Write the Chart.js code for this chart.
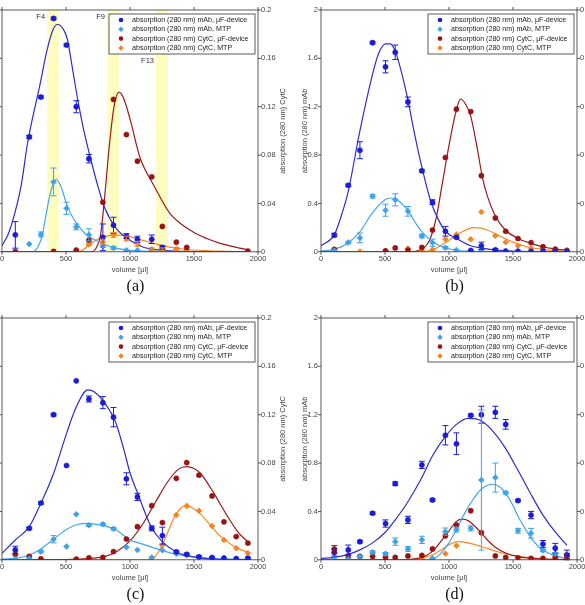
<!DOCTYPE html>
<html lang="en">
  <head>
    <meta charset="UTF-8" />
    <title>Elution profiles</title>
    <style>
      body {
        margin: 0;
        width: 585px;
        height: 605px;
        overflow: hidden;
        background: #fff;
        position: relative;
      }
      canvas {
        position: absolute;
      }
    </style>
    <script src="https://cdn.jsdelivr.net/npm/chart.js@4.4.0/dist/chart.umd.min.js"></script>
  </head>
  <body>
    <canvas id="chartA" width="309" height="298" style="left: -19px; top: 0px"></canvas>
    <canvas id="chartB" width="309" height="298" style="left: 300px; top: 0px"></canvas>
    <canvas id="chartC" width="309" height="298" style="left: -19px; top: 308px"></canvas>
    <canvas id="chartD" width="309" height="298" style="left: 300px; top: 308px"></canvas>
    <script>
      // fraction volumes (µl), shared by all four runs
      const volumes = [104, 213, 304, 403, 504, 580, 679, 788, 871, 972, 1058, 1170, 1253, 1362, 1443, 1539, 1641, 1734, 1830, 1921];

      const seriesNames = [
        "absorption (280 nm) mAb, \u03bcF-device",
        "absorption (280 nm) mAb, MTP",
        "absorption (280 nm) CytC, \u03bcF-device",
        "absorption (280 nm) CytC, MTP",
      ];
      const pointColors = ["#1d1dd8", "#3da2ea", "#981414", "#f5831f"];
      const lineColors = ["#2e2ec9", "#45a6ea", "#9a1a1a", "#f58a2a"];
      const markerShapes = ["circle", "rectRot", "circle", "rectRot"];
      const seriesAxes = ["y", "y", "y1", "y1"];

      // (a)
      const aMabDev = [0.14, 0.95, 1.28, 1.93, 1.71, 1.2, 0.77, 0.12, 0.22, 0.13, 0.104, 0.104, 0.036, null, null, null, null, null, null, null];
      const aMabDevErr = [0.11, 0.012, 0.01, 0.01, 0.01, 0.05, 0.035, 0.11, 0.066, 0.02, 0.025, 0.035, 0.015, 0, 0, 0, 0, 0, 0, 0];
      const aMabMtp = [null, 0.064, 0.144, 0.578, 0.36, 0.206, 0.14, 0.046, 0.032, 0.012, 0.012, 0.01, 0.008, null, null, null, null, null, null, null];
      const aMabMtpErr = [0, 0, 0.02, 0.115, 0.05, 0.024, 0.05, 0.01, 0.01, 0, 0, 0, 0, 0, 0, 0, 0, 0, 0, 0];
      const aCytDev = [0.0002, null, null, 0.0003, null, 0.0014, 0.0096, 0.041, 0.126, 0.097, 0.075, 0.062, 0.021, 0.008, 0.0036, null, null, null, null, 0.0006];
      const aCytMtp = [null, null, null, null, null, 0.0006, 0.006, 0.0084, 0.014, 0.011, 0.0066, 0.0022, 0.0022, 0.0024, 0.0016, null, null, null, null, null];
      const aCytMtpErr = [0, 0, 0, 0, 0, 0, 0.001, 0.002, 0.002, 0.002, 0.002, 0.001, 0.001, 0.001, 0, 0, 0, 0, 0, 0];

      const aFitMabDev = [[0, 0.05], [50, 0.15], [100, 0.32], [150, 0.55], [200, 0.9], [300, 1.4], [350, 1.66], [400, 1.84], [435, 1.88], [480, 1.84], [510, 1.76], [550, 1.52], [593, 1.25], [640, 1.0], [690, 0.78], [750, 0.54], [800, 0.37], [887, 0.2], [1000, 0.095], [1100, 0.04], [1200, 0.018], [1310, 0.008], [1500, 0.002], [1920, 0]];
      const aFitMabMtp = [[250, 0], [280, 0.04], [313, 0.13], [340, 0.28], [370, 0.45], [400, 0.56], [425, 0.6], [460, 0.54], [510, 0.38], [550, 0.29], [593, 0.22], [640, 0.16], [690, 0.12], [750, 0.085], [800, 0.06], [887, 0.03], [1000, 0.012], [1100, 0.005], [1300, 0.001], [1920, 0]];
      const aFitCytDev = [[0, 0], [700, 0], [740, 0.004], [770, 0.014], [800, 0.043], [835, 0.084], [875, 0.12], [914, 0.132], [950, 0.127], [1000, 0.11], [1078, 0.078], [1191, 0.054], [1310, 0.032], [1468, 0.018], [1600, 0.011], [1705, 0.007], [1800, 0.0045], [1920, 0.0016]];
      const aFitCytMtp = [[0, 0], [600, 0], [650, 0.003], [690, 0.0066], [750, 0.0105], [800, 0.0125], [880, 0.014], [950, 0.0135], [1000, 0.0125], [1100, 0.0095], [1200, 0.0065], [1300, 0.004], [1400, 0.0025], [1500, 0.0015], [1700, 0.0005], [1920, 0]];

      // fractions marked in (a)
      const fracBands = [[352, 445], [820, 914], [1203, 1297]];
      const fracNames = ["F4", "F9", "F13"];
      const fracLabelLevels = [0.194, 0.194, 0.158];

      // (b)
      const bMabDev = [0.138, 0.55, 0.84, 1.73, 1.53, 1.65, 1.24, 0.67, 0.41, 0.17, 0.12, 0.01, 0.05, 0.016, 0.005, 0.004, 0.003, 0.003, 0.003, 0.002];
      const bMabDevErr = [0.015, 0.01, 0.07, 0.01, 0.05, 0.06, 0.04, 0.01, 0.02, 0.04, 0.01, 0, 0.03, 0.01, 0, 0, 0, 0, 0, 0];
      const bMabMtp = [0.01, 0.077, 0.115, 0.46, 0.344, 0.43, 0.335, 0.13, 0.075, 0.033, 0.014, 0.01, 0.008, 0.006, 0.005, 0.004, 0.003, 0.003, 0.003, 0.002];
      const bMabMtpErr = [0, 0.01, 0.04, 0.015, 0.05, 0.05, 0.04, 0.015, 0.03, 0.01, 0, 0, 0, 0, 0, 0, 0, 0, 0, 0];
      const bCytDev = [0.002, null, null, null, 0.0008, 0.0032, 0.0014, 0.0036, 0.018, 0.078, 0.118, 0.116, 0.063, 0.028, 0.017, 0.011, 0.0076, 0.0042, 0.0022, 0.0011];
      const bCytMtp = [null, null, 0.0002, null, 0.0006, null, 0.0028, 0.0008, 0.0016, 0.0104, 0.0144, 0.0104, 0.033, 0.0132, 0.008, 0.005, 0.0028, 0.0016, 0.0012, 0.0008];

      const bFitMabDev = [[0, 0.05], [104, 0.14], [150, 0.27], [213, 0.5], [300, 0.98], [403, 1.47], [450, 1.64], [504, 1.72], [540, 1.72], [580, 1.66], [630, 1.48], [680, 1.25], [730, 0.98], [788, 0.7], [860, 0.41], [920, 0.26], [972, 0.17], [1058, 0.11], [1170, 0.05], [1253, 0.03], [1362, 0.014], [1500, 0.005], [1700, 0.001], [1920, 0]];
      const bFitMabMtp = [[0, 0.008], [100, 0.02], [200, 0.065], [300, 0.16], [400, 0.32], [500, 0.43], [540, 0.445], [600, 0.425], [680, 0.34], [750, 0.22], [800, 0.15], [870, 0.085], [950, 0.04], [1050, 0.015], [1150, 0.005], [1300, 0.001], [1920, 0]];
      const bFitCytDev = [[0, 0], [700, 0], [760, 0.001], [800, 0.003], [850, 0.01], [900, 0.028], [950, 0.058], [1000, 0.088], [1050, 0.114], [1090, 0.1264], [1130, 0.122], [1170, 0.112], [1220, 0.086], [1260, 0.062], [1300, 0.046], [1360, 0.03], [1440, 0.018], [1540, 0.011], [1640, 0.007], [1740, 0.004], [1830, 0.0024], [1920, 0.0014]];
      const bFitCytMtp = [[0, 0], [780, 0], [850, 0.001], [900, 0.003], [950, 0.006], [1000, 0.0096], [1050, 0.013], [1100, 0.0164], [1150, 0.019], [1200, 0.02], [1250, 0.0196], [1300, 0.018], [1350, 0.0156], [1400, 0.0128], [1500, 0.008], [1600, 0.0044], [1700, 0.0024], [1800, 0.0012], [1920, 0.0006]];

      // (c)
      const cMabDev = [0.082, 0.26, 0.47, 1.2, 0.78, 1.48, 1.33, 1.3, 1.18, 0.67, 0.52, 0.26, 0.2, 0.066, 0.045, 0.025, 0.018, 0.015, 0.01, 0.013];
      const cMabDevErr = [0.03, 0.01, 0.01, 0.01, 0, 0, 0.025, 0.05, 0.08, 0.05, 0.03, 0.02, 0.07, 0.01, 0.01, 0.01, 0.005, 0, 0, 0.01];
      const cMabMtp = [0.006, 0.01, 0.068, 0.17, 0.11, 0.376, 0.286, 0.294, 0.256, 0.104, 0.082, 0.02, 0.08, 0.05, 0.04, 0.024, 0.016, 0.012, 0.008, 0.006];
      const cMabMtpErr = [0, 0, 0.01, 0.03, 0, 0, 0.01, 0.01, 0.01, 0, 0, 0, 0, 0, 0, 0, 0, 0, 0, 0];
      const cCytDev = [0.0046, 0.0028, 0.0008, null, null, 0.0006, 0.0016, 0.002, 0.0068, 0.0172, 0.0274, 0.0448, 0.0308, 0.0674, 0.0804, 0.07, 0.0528, 0.0314, 0.0192, 0.0138];
      const cCytMtp = [null, null, null, null, null, null, null, null, null, null, null, 0.0014, 0.012, 0.037, 0.0446, 0.0406, 0.028, 0.0164, 0.0096, 0.0054];

      const cFitMabDev = [[0, 0.054], [104, 0.164], [213, 0.274], [304, 0.468], [403, 0.714], [504, 1.044], [580, 1.264], [670, 1.406], [720, 1.39], [800, 1.3], [887, 1.14], [950, 0.92], [1000, 0.72], [1060, 0.55], [1165, 0.274], [1250, 0.152], [1355, 0.068], [1440, 0.036], [1600, 0.01], [1800, 0.002], [1920, 0.001]];
      const cFitMabMtp = [[0, 0.006], [104, 0.012], [213, 0.04], [304, 0.09], [403, 0.17], [504, 0.25], [580, 0.29], [670, 0.302], [800, 0.28], [887, 0.25], [1000, 0.165], [1100, 0.13], [1200, 0.094], [1300, 0.062], [1400, 0.038], [1500, 0.024], [1650, 0.01], [1920, 0.003]];
      const cFitCytDev = [[0, 0], [500, 0.0002], [700, 0.0012], [800, 0.0026], [900, 0.007], [1000, 0.0156], [1100, 0.0296], [1200, 0.048], [1300, 0.0654], [1380, 0.075], [1440, 0.077], [1500, 0.0755], [1550, 0.0716], [1650, 0.056], [1750, 0.038], [1850, 0.022], [1920, 0.015]];
      const cFitCytMtp = [[0, 0], [1150, 0], [1180, 0.001], [1220, 0.006], [1260, 0.014], [1300, 0.024], [1350, 0.036], [1400, 0.043], [1440, 0.045], [1500, 0.042], [1550, 0.038], [1600, 0.032], [1650, 0.026], [1700, 0.02], [1750, 0.016], [1800, 0.012], [1850, 0.009], [1915, 0.0066]];

      // (d)
      const dMabDev = [0.06, 0.082, 0.15, 0.385, 0.3, 0.63, 0.33, 0.785, 0.495, 1.03, 0.96, 1.195, 1.2, 1.22, 1.12, 0.49, 0.37, 0.13, 0.096, 0.04];
      const dMabDevErr = [0.03, 0.04, 0.01, 0.01, 0.03, 0.015, 0.03, 0.03, 0.01, 0.08, 0.09, 0.01, 0.07, 0.05, 0.04, 0.01, 0.03, 0.03, 0.04, 0.04];
      const dMabMtp = [0.005, 0.005, 0.027, 0.063, 0.05, 0.15, 0.09, 0.165, 0.01, 0.233, 0.25, 0.26, 0.66, 0.68, 0.554, 0.24, 0.22, 0.077, 0.05, 0.01];
      const dMabMtpErr = [0, 0, 0, 0.01, 0.01, 0.03, 0.02, 0.03, 0, 0.03, 0.02, 0.02, 0.58, 0.12, 0.01, 0.02, 0.04, 0.01, 0.01, 0];
      const dCytDev = [0.0088, 0.0032, 0.0028, 0.0028, 0.002, 0.002, 0.0032, 0.0036, 0.009, 0.0198, 0.0288, 0.0406, 0.0224, 0.0032, 0.002, 0.0016, 0.0012, 0.0012, 0.002, 0.0032];
      const dCytDevErr = [0.003, 0, 0, 0, 0, 0, 0, 0, 0, 0, 0, 0, 0, 0, 0, 0, 0, 0, 0, 0.002];
      const dCytMtp = [null, 0.0014, null, null, null, null, null, 0.0006, 0.001, 0.005, 0.0116, null, null, null, null, null, null, null, null, null];

      const dFitMabDev = [[0, 0.012], [100, 0.02], [213, 0.045], [300, 0.08], [403, 0.14], [504, 0.23], [580, 0.33], [679, 0.48], [788, 0.68], [871, 0.86], [972, 1.02], [1058, 1.12], [1150, 1.17], [1253, 1.15], [1362, 1.04], [1443, 0.92], [1539, 0.74], [1641, 0.54], [1734, 0.37], [1830, 0.23], [1921, 0.12]];
      const dFitMabMtp = [[0, 0], [850, 0], [900, 0.02], [950, 0.07], [1000, 0.14], [1058, 0.25], [1120, 0.38], [1170, 0.47], [1253, 0.585], [1340, 0.625], [1400, 0.6], [1443, 0.55], [1500, 0.45], [1539, 0.36], [1600, 0.25], [1641, 0.18], [1700, 0.11], [1734, 0.082], [1800, 0.045], [1830, 0.033], [1921, 0.01]];
      const dFitCytDev = [[0, 0], [600, 0], [700, 0.0004], [800, 0.0024], [870, 0.007], [950, 0.017], [1000, 0.024], [1050, 0.031], [1100, 0.0336], [1150, 0.0324], [1200, 0.028], [1253, 0.022], [1300, 0.0164], [1362, 0.0104], [1443, 0.0056], [1539, 0.0026], [1641, 0.0012], [1800, 0.0004], [1921, 0.0002]];
      const dFitCytMtp = [[0, 0], [600, 0], [700, 0.0002], [800, 0.0016], [870, 0.004], [950, 0.009], [1000, 0.0124], [1070, 0.015], [1150, 0.014], [1250, 0.011], [1350, 0.0076], [1450, 0.0048], [1550, 0.0028], [1650, 0.0016], [1750, 0.0008], [1921, 0.0002]];

      const FONT = '"Liberation Sans", Arial, sans-serif';
      const SERIF = '"Liberation Serif", "DejaVu Serif", serif';

      function drawMarker(ctx, shape, color, x, y, r) {
        ctx.fillStyle = color;
        ctx.beginPath();
        if (shape === "circle") {
          ctx.arc(x, y, r, 0, Math.PI * 2);
        } else {
          ctx.moveTo(x, y - r * 1.2);
          ctx.lineTo(x + r * 1.2, y);
          ctx.lineTo(x, y + r * 1.2);
          ctx.lineTo(x - r * 1.2, y);
          ctx.closePath();
        }
        ctx.fill();
      }

      const framePlugin = {
        id: "frame",
        afterDraw(chart) {
          const { ctx, chartArea: a, scales } = chart;
          ctx.save();
          ctx.strokeStyle = "#333";
          ctx.lineWidth = 0.8;
          ctx.strokeRect(a.left, a.top, a.right - a.left, a.bottom - a.top);
          ctx.beginPath();
          scales.x.ticks.forEach((t) => {
            const px = scales.x.getPixelForValue(t.value);
            ctx.moveTo(px, a.bottom);
            ctx.lineTo(px, a.bottom + 3);
            ctx.moveTo(px, a.top);
            ctx.lineTo(px, a.top - 3);
          });
          scales.y.ticks.forEach((t) => {
            const py = scales.y.getPixelForValue(t.value);
            ctx.moveTo(a.left, py);
            ctx.lineTo(a.left - 3, py);
          });
          scales.y1.ticks.forEach((t) => {
            const py = scales.y1.getPixelForValue(t.value);
            ctx.moveTo(a.right, py);
            ctx.lineTo(a.right + 3, py);
          });
          ctx.stroke();
          ctx.restore();
        },
      };

      const errorBarPlugin = {
        id: "errorBars",
        afterDatasetsDraw(chart) {
          const { ctx, scales } = chart;
          ctx.save();
          ctx.lineWidth = 1;
          chart.data.datasets.forEach((ds) => {
            if (!ds.errorBars) return;
            const ys = scales[ds.yAxisID];
            ctx.strokeStyle = ds.borderColor;
            ctx.beginPath();
            ds.data.forEach((p) => {
              if (!p.e) return;
              const px = scales.x.getPixelForValue(p.x);
              const top = ys.getPixelForValue(p.y + p.e);
              const bot = ys.getPixelForValue(Math.max(p.y - p.e, 0));
              ctx.moveTo(px, top);
              ctx.lineTo(px, bot);
              ctx.moveTo(px - 3, top);
              ctx.lineTo(px + 3, top);
              ctx.moveTo(px - 3, bot);
              ctx.lineTo(px + 3, bot);
            });
            ctx.stroke();
          });
          ctx.restore();
        },
      };

      const legendBoxPlugin = {
        id: "legendBox",
        afterDraw(chart) {
          const { ctx, chartArea: a } = chart;
          const w = 146;
          const h = 40;
          const left = a.right - 3 - w;
          const top = a.top + 4;
          ctx.save();
          ctx.fillStyle = "#fff";
          ctx.fillRect(left, top, w, h);
          ctx.strokeStyle = "#333";
          ctx.lineWidth = 0.8;
          ctx.strokeRect(left, top, w, h);
          ctx.font = "7.1px " + FONT;
          ctx.textBaseline = "middle";
          chart.data.datasets
            .filter((ds) => ds.inLegend)
            .forEach((ds, i) => {
              const y = top + 6 + i * 9.3;
              drawMarker(ctx, ds.pointStyle, ds.backgroundColor, left + 12, y, 2.3);
              ctx.fillStyle = "#222";
              ctx.fillText(ds.label, left + 23, y);
            });
          ctx.restore();
        },
      };

      // right axis title reads bottom-to-top like the left one
      const rightTitlePlugin = {
        id: "rightTitle",
        afterDraw(chart) {
          const { ctx, chartArea: a } = chart;
          ctx.save();
          ctx.translate(a.right + 25, (a.top + a.bottom) / 2);
          ctx.rotate(-Math.PI / 2);
          ctx.font = "7.5px " + FONT;
          ctx.fillStyle = "#444";
          ctx.textAlign = "center";
          ctx.textBaseline = "middle";
          ctx.fillText("absorption (280 nm) CytC", 0, 0);
          ctx.restore();
        },
      };

      function bandPlugin(bands, names, levels) {
        return {
          id: "fractionBands",
          beforeDatasetsDraw(chart) {
            const { ctx, chartArea: a, scales } = chart;
            ctx.save();
            bands.forEach((b, i) => {
              const x0 = scales.x.getPixelForValue(b[0]);
              const x1 = scales.x.getPixelForValue(b[1]);
              ctx.fillStyle = "#fdfdc2";
              ctx.fillRect(x0, a.top, x1 - x0, a.bottom - a.top);
              ctx.fillStyle = "#333";
              ctx.font = "7.5px " + FONT;
              ctx.textAlign = "right";
              ctx.textBaseline = "middle";
              ctx.fillText(names[i], x0 - 2, scales.y1.getPixelForValue(levels[i]));
            });
            ctx.restore();
          },
        };
      }

      function pointSet(i, vals, errs) {
        return {
          type: "line",
          label: seriesNames[i],
          showLine: false,
          inLegend: true,
          errorBars: true,
          yAxisID: seriesAxes[i],
          data: volumes
            .map((v, k) => ({ x: v, y: vals[k], e: errs ? errs[k] : 0 }))
            .filter((p) => p.y !== null),
          pointStyle: markerShapes[i],
          pointRadius: markerShapes[i] === "circle" ? 2.6 : 3,
          backgroundColor: pointColors[i],
          borderColor: pointColors[i],
          borderWidth: 0.5,
          order: 0,
        };
      }

      function fitSet(i, pairs) {
        return {
          type: "line",
          label: "",
          yAxisID: seriesAxes[i],
          data: pairs.map((p) => ({ x: p[0], y: p[1] })),
          borderColor: lineColors[i],
          borderWidth: 1.2,
          pointRadius: 0,
          fill: false,
          cubicInterpolationMode: "monotone",
          order: 1,
        };
      }

      const tickFont = { family: FONT, size: 7.5 };

      function makeChart(id, label, datasets, extraPlugins) {
        return new Chart(document.getElementById(id), {
          type: "line",
          data: { datasets: datasets },
          options: {
            responsive: false,
            animation: false,
            devicePixelRatio: 1,
            layout: { padding: { top: 10, left: 0, right: 0, bottom: 0 } },
            plugins: {
              legend: { display: false },
              tooltip: { enabled: false },
              title: {
                display: true,
                position: "bottom",
                text: label,
                color: "#111",
                font: { family: SERIF, size: 16, weight: "normal" },
                padding: { top: 2, bottom: 2 },
              },
            },
            scales: {
              x: {
                type: "linear",
                min: 0,
                max: 2000,
                grid: { display: false, drawTicks: false },
                border: { display: false },
                ticks: { stepSize: 500, padding: 3, color: "#444", font: tickFont, maxRotation: 0, autoSkip: false, callback: (v) => String(v) },
                title: { display: true, text: "volume [\u03bcl]", color: "#444", font: tickFont, padding: { top: 0, bottom: 0 } },
                afterFit: (s) => {
                  s.height = 23;
                },
              },
              y: {
                position: "left",
                min: 0,
                max: 2,
                grid: { display: false, drawTicks: false },
                border: { display: false },
                ticks: { stepSize: 0.4, padding: 3, color: "#444", font: tickFont, callback: (v) => String(+v.toFixed(2)) },
                title: { display: true, text: "absorption (280 nm) mAb", color: "#444", font: tickFont, padding: { top: 0, bottom: 0 } },
                afterFit: (s) => {
                  s.width = 21;
                },
              },
              y1: {
                position: "right",
                min: 0,
                max: 0.2,
                grid: { display: false, drawTicks: false },
                border: { display: false },
                ticks: { stepSize: 0.04, padding: 3, color: "#444", font: tickFont, callback: (v) => String(+v.toFixed(2)) },
                afterFit: (s) => {
                  s.width = 32;
                },
              },
            },
          },
          plugins: extraPlugins.concat([errorBarPlugin, framePlugin, rightTitlePlugin, legendBoxPlugin]),
        });
      }

      makeChart(
        "chartA",
        "(a)",
        [
          pointSet(0, aMabDev, aMabDevErr),
          pointSet(1, aMabMtp, aMabMtpErr),
          pointSet(2, aCytDev, null),
          pointSet(3, aCytMtp, aCytMtpErr),
          fitSet(0, aFitMabDev),
          fitSet(1, aFitMabMtp),
          fitSet(2, aFitCytDev),
          fitSet(3, aFitCytMtp),
        ],
        [bandPlugin(fracBands, fracNames, fracLabelLevels)]
      );

      makeChart(
        "chartB",
        "(b)",
        [
          pointSet(0, bMabDev, bMabDevErr),
          pointSet(1, bMabMtp, bMabMtpErr),
          pointSet(2, bCytDev, null),
          pointSet(3, bCytMtp, null),
          fitSet(0, bFitMabDev),
          fitSet(1, bFitMabMtp),
          fitSet(2, bFitCytDev),
          fitSet(3, bFitCytMtp),
        ],
        []
      );

      makeChart(
        "chartC",
        "(c)",
        [
          pointSet(0, cMabDev, cMabDevErr),
          pointSet(1, cMabMtp, cMabMtpErr),
          pointSet(2, cCytDev, null),
          pointSet(3, cCytMtp, null),
          fitSet(0, cFitMabDev),
          fitSet(1, cFitMabMtp),
          fitSet(2, cFitCytDev),
          fitSet(3, cFitCytMtp),
        ],
        []
      );

      makeChart(
        "chartD",
        "(d)",
        [
          pointSet(0, dMabDev, dMabDevErr),
          pointSet(1, dMabMtp, dMabMtpErr),
          pointSet(2, dCytDev, dCytDevErr),
          pointSet(3, dCytMtp, null),
          fitSet(0, dFitMabDev),
          fitSet(1, dFitMabMtp),
          fitSet(2, dFitCytDev),
          fitSet(3, dFitCytMtp),
        ],
        []
      );
    </script>
  </body>
</html>
